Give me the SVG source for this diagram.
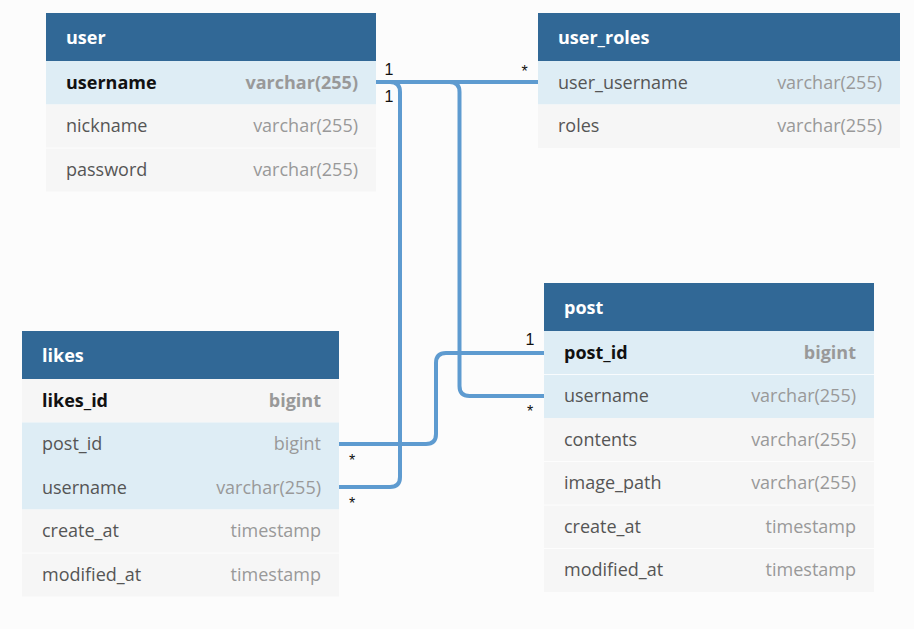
<svg xmlns="http://www.w3.org/2000/svg" width="914" height="629" viewBox="0 0 914 629">
<style>
.bg{fill:#fcfcfc}
.hd{fill:#316896}
.hl{fill:#deedf5}
.rw{fill:#f6f6f6}
.sep{stroke:#ffffff;stroke-width:1;opacity:0.8}
.ht{font-family:"Open Sans",sans-serif;font-size:18px;font-weight:700;fill:#ffffff}
.fn{font-family:"Open Sans",sans-serif;font-size:18px;fill:#555555}
.ft{font-family:"Open Sans",sans-serif;font-size:18px;fill:#999999;text-anchor:end}
.pk{font-weight:700;fill:#111111}
.pkt{font-weight:700;fill:#999999}
.cn{fill:none;stroke:#5e9bd0;stroke-width:4}
.lb{font-family:"Liberation Sans",Arial,sans-serif;font-size:16px;fill:#111111;text-anchor:middle}
</style>
<rect class="bg" x="0" y="0" width="914" height="629"/>

<g id="user">
<rect class="hd" x="46" y="13" width="330" height="48"/>
<text class="ht" x="66" y="44">user</text>
<rect class="hl" x="46" y="61" width="330" height="43.5"/>
<rect class="rw" x="46" y="104.5" width="330" height="87"/>
<line class="sep" x1="46" y1="148" x2="376" y2="148"/>
<text class="fn pk" x="66" y="88.5">username</text>
<text class="ft pkt" x="358" y="88.5">varchar(255)</text>
<text class="fn" x="66" y="132">nickname</text>
<text class="ft" x="358" y="132">varchar(255)</text>
<text class="fn" x="66" y="175.5">password</text>
<text class="ft" x="358" y="175.5">varchar(255)</text>
</g>

<g id="user_roles">
<rect class="hd" x="538" y="13" width="362" height="48"/>
<text class="ht" x="558" y="44">user_roles</text>
<rect class="hl" x="538" y="61" width="362" height="43.5"/>
<rect class="rw" x="538" y="104.5" width="362" height="43.5"/>
<text class="fn" x="558" y="88.5">user_username</text>
<text class="ft" x="882" y="88.5">varchar(255)</text>
<text class="fn" x="558" y="132">roles</text>
<text class="ft" x="882" y="132">varchar(255)</text>
</g>

<g id="likes">
<rect class="hd" x="22" y="331" width="317" height="48"/>
<text class="ht" x="42" y="362">likes</text>
<rect class="rw" x="22" y="379" width="317" height="43.5"/>
<rect class="hl" x="22" y="422.5" width="317" height="87"/>
<rect class="rw" x="22" y="509.5" width="317" height="87"/>
<line class="sep" x1="22" y1="553" x2="339" y2="553"/>
<text class="fn pk" x="42" y="406.5">likes_id</text>
<text class="ft pkt" x="321" y="406.5">bigint</text>
<text class="fn" x="42" y="450">post_id</text>
<text class="ft" x="321" y="450">bigint</text>
<text class="fn" x="42" y="493.5">username</text>
<text class="ft" x="321" y="493.5">varchar(255)</text>
<text class="fn" x="42" y="537">create_at</text>
<text class="ft" x="321" y="537">timestamp</text>
<text class="fn" x="42" y="580.5">modified_at</text>
<text class="ft" x="321" y="580.5">timestamp</text>
</g>

<g id="post">
<rect class="hd" x="544" y="283" width="330" height="48"/>
<text class="ht" x="564" y="314">post</text>
<rect class="hl" x="544" y="331" width="330" height="87"/>
<line class="sep" x1="544" y1="374.5" x2="874" y2="374.5"/>
<rect class="rw" x="544" y="418" width="330" height="174"/>
<line class="sep" x1="544" y1="461.5" x2="874" y2="461.5"/>
<line class="sep" x1="544" y1="505" x2="874" y2="505"/>
<line class="sep" x1="544" y1="548.5" x2="874" y2="548.5"/>
<text class="fn pk" x="564" y="358.5">post_id</text>
<text class="ft pkt" x="856" y="358.5">bigint</text>
<text class="fn" x="564" y="402">username</text>
<text class="ft" x="856" y="402">varchar(255)</text>
<text class="fn" x="564" y="445.5">contents</text>
<text class="ft" x="856" y="445.5">varchar(255)</text>
<text class="fn" x="564" y="489">image_path</text>
<text class="ft" x="856" y="489">varchar(255)</text>
<text class="fn" x="564" y="532.5">create_at</text>
<text class="ft" x="856" y="532.5">timestamp</text>
<text class="fn" x="564" y="576">modified_at</text>
<text class="ft" x="856" y="576">timestamp</text>
</g>

<g id="connectors">
<path class="cn" d="M376 82 H538"/>
<path class="cn" d="M376 82 H449.5 Q459.5 82 459.5 92 V386 Q459.5 396 469.5 396 H544"/>
<path class="cn" d="M376 82 H390 Q400 82 400 92 V477 Q400 487 390 487 H339"/>
<path class="cn" d="M544 353 H446 Q436 353 436 363 V434 Q436 444 426 444 H339"/>
<text class="lb" x="389" y="75">1</text>
<text class="lb" x="389" y="102">1</text>
<text class="lb" x="524.5" y="77">*</text>
<text class="lb" x="530" y="345">1</text>
<text class="lb" x="530" y="417">*</text>
<text class="lb" x="352" y="466">*</text>
<text class="lb" x="352" y="509">*</text>
</g>
</svg>
